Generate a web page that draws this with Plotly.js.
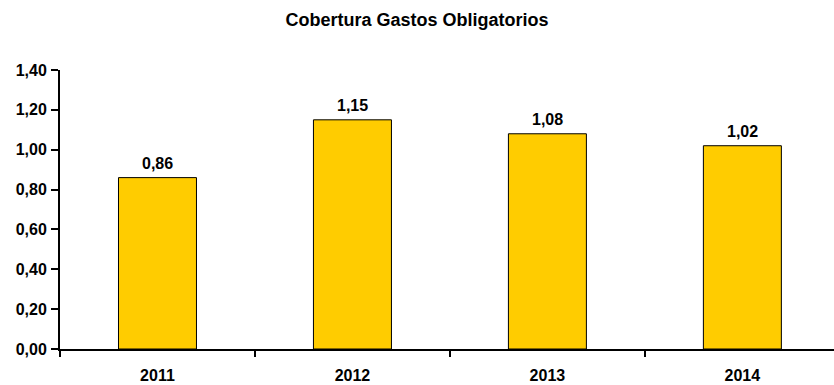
<!DOCTYPE html>
<html>
<head>
<meta charset="utf-8">
<script src="https://cdn.plot.ly/plotly-3.0.1.min.js"></script>
<style>html,body{margin:0;padding:0;background:#fff;}#chart{width:834px;height:385px;}</style>
</head>
<body>
<div id="chart"></div>
<script>
const years = ["2011", "2012", "2013", "2014"];
const coverage = [0.86, 1.15, 1.08, 1.02];
const yTicks = [0, 0.2, 0.4, 0.6, 0.8, 1.0, 1.2, 1.4];

const fam = "Liberation Sans, Arial, sans-serif";

const valueLabels = coverage.map((v, i) => ({
  x: i, y: v, xref: "x", yref: "y",
  text: v.toFixed(2).replace(".", ","),
  showarrow: false, xanchor: "center", yanchor: "bottom", yshift: 4,
  font: {family: fam, size: 16, color: "#000000", weight: "bold"}
}));

Plotly.newPlot("chart", [{
  type: "bar",
  x: years,
  y: coverage,
  width: 0.4,
  marker: {color: "#FFCC00", line: {color: "#000000", width: 1}},
  hoverinfo: "none"
}], {
  width: 834, height: 385,
  margin: {l: 60, r: 0, t: 70, b: 36},
  separators: ",.",
  paper_bgcolor: "#fff", plot_bgcolor: "#fff",
  title: {text: "Cobertura Gastos Obligatorios", x: 0.5, xanchor: "center", y: 0.948, yanchor: "middle",
          font: {family: fam, size: 18, color: "#000", weight: "bold"}},
  annotations: valueLabels,
  xaxis: {
    type: "category",
    range: [-0.5, 3.47],
    showline: true, linecolor: "#000", linewidth: 2,
    ticks: "outside", tickson: "boundaries", ticklen: 6, tickcolor: "#000", tickwidth: 2,
    showgrid: false, zeroline: false,
    tickfont: {family: fam, size: 16, color: "#000", weight: "bold"},
    ticklabelstandoff: 11
  },
  yaxis: {
    range: [0, 1.4],
    tickvals: yTicks,
    tickformat: ".2f",
    showline: true, linecolor: "#000", linewidth: 2,
    ticks: "outside", ticklen: 7, tickcolor: "#000", tickwidth: 2,
    showgrid: false, zeroline: false,
    tickfont: {family: fam, size: 16, color: "#000", weight: "bold"},
    ticklabelstandoff: 1
  },
  showlegend: false
}, {displayModeBar: false, staticPlot: true});
</script>
</body>
</html>
